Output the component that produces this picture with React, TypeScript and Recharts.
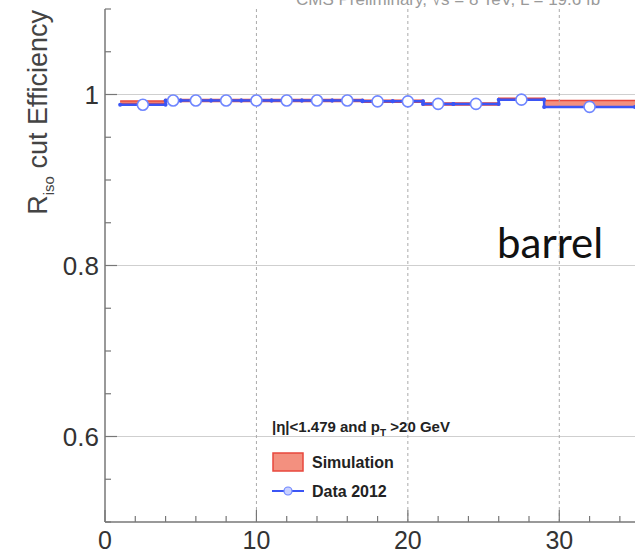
import React from 'react';
import {
  ComposedChart,
  XAxis,
  YAxis,
  Area,
  Line,
  Scatter,
  ReferenceLine,
} from 'recharts';

// pT bins (GeV)
const binLow = [1, 4, 5, 7, 9, 11, 13, 15, 17, 19, 21, 23, 26, 29];
const binHigh = [4, 5, 7, 9, 11, 13, 15, 17, 19, 21, 23, 26, 29, 35];
const binCenter = [2.5, 4.5, 6, 8, 10, 12, 14, 16, 18, 20, 22, 24.5, 27.5, 32];

// R_iso cut efficiency
const dataEff = [0.988, 0.993, 0.993, 0.993, 0.993, 0.993, 0.993, 0.993, 0.992, 0.992, 0.989, 0.989, 0.994, 0.9855];
const simEff = [0.991, 0.993, 0.993, 0.993, 0.993, 0.993, 0.993, 0.993, 0.992, 0.992, 0.989, 0.989, 0.9945, 0.989];
const simErr = [0.0015, 0.0012, 0.0012, 0.0012, 0.0012, 0.0012, 0.0012, 0.0012, 0.0012, 0.0012, 0.0012, 0.0012, 0.0012, 0.004];

const xTicks = [0, 2, 4, 6, 8, 10, 12, 14, 16, 18, 20, 22, 24, 26, 28, 30, 32, 34];
const xLabels = [0, 10, 20, 30];
const yTicks = [0.5, 0.55, 0.6, 0.65, 0.7, 0.75, 0.8, 0.85, 0.9, 0.95, 1, 1.05, 1.1];
const yLabels = [0.6, 0.8, 1];

const FONT = '"Liberation Sans", Arial, Helvetica, sans-serif';
const FRAME = '#777';
const RED = '#e8473c';
const BLUE = '#3b55f5';

const simSteps = binLow.flatMap((lo, i) => {
  const band = [simEff[i] - simErr[i], simEff[i] + simErr[i]];
  return [
    { x: lo, band },
    { x: binHigh[i], band },
  ];
});

const dataSteps = binLow.flatMap((lo, i) => [
  { x: lo, eff: dataEff[i] },
  { x: binHigh[i], eff: dataEff[i] },
]);

const dataPoints = binCenter.map((x, i) => ({ x, eff: dataEff[i] }));

const isLabel = (list: number[], v: number) => list.some((l) => Math.abs(l - v) < 1e-6);

function BottomTick({ x, y, payload }: any) {
  const major = isLabel(xLabels, payload.value);
  return (
    <g>
      <line x1={x} x2={x} y1={y} y2={y - (major ? 12 : 6)} stroke={FRAME} strokeWidth={1.2} />
      {major && (
        <text x={x} y={y + 27} textAnchor="middle" fontSize={25} fill="#333" fontFamily={FONT}>
          {payload.value}
        </text>
      )}
    </g>
  );
}

function TopTick({ x, y, payload }: any) {
  const major = isLabel(xLabels, payload.value);
  return <line x1={x} x2={x} y1={y} y2={y + (major ? 12 : 6)} stroke={FRAME} strokeWidth={1.2} />;
}

function LeftTick({ x, y, payload }: any) {
  const major = isLabel(yLabels, payload.value);
  return (
    <g>
      <line x1={x} x2={x + (major ? 12 : 6)} y1={y} y2={y} stroke={FRAME} strokeWidth={1.2} />
      {major && (
        <text x={x - 6} y={y + 9} textAnchor="end" fontSize={26} fill="#333" fontFamily={FONT}>
          {payload.value}
        </text>
      )}
    </g>
  );
}

function RightTick({ x, y, payload }: any) {
  const major = isLabel(yLabels, payload.value);
  return <line x1={x} x2={x - (major ? 12 : 6)} y1={y} y2={y} stroke={FRAME} strokeWidth={1.2} />;
}

function OpenCircle({ cx, cy }: any) {
  return <circle cx={cx} cy={cy} r={5.5} fill="#fff" stroke="#6f86ff" strokeWidth={1.6} />;
}

function EdgeDot({ cx, cy }: any) {
  return <circle cx={cx} cy={cy} r={2} fill={BLUE} />;
}

function LegendBox({ x, y }: { x: number; y: number }) {
  return (
    <g transform={`translate(${x}, ${y})`}>
      <text x={0} y={16} fontSize={15} fontWeight="bold" fill="#222" fontFamily={FONT}>
        |η|&lt;1.479 and p
        <tspan fontSize={10} dy={5}>T</tspan>
        <tspan dy={-5}> &gt;20 GeV</tspan>
      </text>
      <rect x={1} y={37} width={30} height={18} fill="#f3907f" stroke={RED} strokeWidth={1.5} />
      <text x={40} y={52} fontSize={16} fontWeight="bold" fill="#222" fontFamily={FONT}>
        Simulation
      </text>
      <line x1={0} x2={32} y1={75} y2={75} stroke={BLUE} strokeWidth={2} />
      <circle cx={16} cy={75} r={4} fill="#c8d0ff" stroke="#6f86ff" strokeWidth={1.2} />
      <text x={40} y={81} fontSize={16} fontWeight="bold" fill="#222" fontFamily={FONT}>
        Data 2012
      </text>
    </g>
  );
}

export default function App() {
  return (
    <div style={{ position: 'absolute', left: 0, top: 0, background: '#fff' }}>
      <ComposedChart
        width={644}
        height={556}
        margin={{ top: 9, right: 9, bottom: 0, left: 0 }}
      >
        <XAxis
          xAxisId={0}
          dataKey="x"
          type="number"
          domain={[0, 35]}
          ticks={xTicks}
          interval={0}
          height={34}
          tickSize={0}
          tickMargin={0}
          tick={<BottomTick />}
          axisLine={{ stroke: FRAME, strokeWidth: 1.5 }}
          allowDataOverflow
        />
        <XAxis
          xAxisId="top"
          orientation="top"
          type="number"
          domain={[0, 35]}
          ticks={xTicks}
          interval={0}
          height={0}
          tickSize={0}
          tickMargin={0}
          tick={<TopTick />}
          axisLine={{ stroke: FRAME, strokeWidth: 1.5 }}
          allowDataOverflow
        />
        <YAxis
          yAxisId={0}
          type="number"
          domain={[0.5, 1.1]}
          ticks={yTicks}
          interval={0}
          width={105}
          tickSize={0}
          tickMargin={0}
          tick={<LeftTick />}
          axisLine={{ stroke: FRAME, strokeWidth: 1.5 }}
          allowDataOverflow
        />
        <YAxis
          yAxisId="right"
          orientation="right"
          type="number"
          domain={[0.5, 1.1]}
          ticks={yTicks}
          interval={0}
          width={0}
          tickSize={0}
          tickMargin={0}
          tick={<RightTick />}
          axisLine={{ stroke: FRAME, strokeWidth: 1.5 }}
          allowDataOverflow
        />

        {yLabels.map((v) => (
          <ReferenceLine key={`h${v}`} y={v} stroke="#cfcfcf" strokeWidth={1} />
        ))}
        {xLabels.slice(1).map((v) => (
          <ReferenceLine key={`v${v}`} x={v} stroke="#aaa" strokeDasharray="3 3" strokeWidth={1} />
        ))}

        <Area
          data={simSteps}
          dataKey="band"
          type="linear"
          stroke={RED}
          strokeWidth={1.5}
          fill="#f3907f"
          fillOpacity={1}
          isAnimationActive={false}
          dot={false}
          activeDot={false}
        />
        <Line
          data={dataSteps}
          dataKey="eff"
          type="linear"
          stroke={BLUE}
          strokeWidth={2.5}
          dot={<EdgeDot />}
          activeDot={false}
          isAnimationActive={false}
        />
        <Scatter
          data={dataPoints}
          dataKey="eff"
          shape={<OpenCircle />}
          isAnimationActive={false}
        />

        <LegendBox x={272} y={416} />

        <text
          x={0}
          y={0}
          transform="translate(47, 10) rotate(-90)"
          textAnchor="end"
          fontSize={27}
          fill="#444"
          fontFamily={FONT}
        >
          R<tspan fontSize={15} dy={7}>iso</tspan>
          <tspan dy={-7}> cut Efficiency</tspan>
        </text>
        <text x={296} y={5} fontSize={17} fill="#9a9a9a" fontFamily={FONT}>
          CMS Preliminary, √s = 8 TeV, L = 19.6 fb⁻¹
        </text>
        <text x={497} y={258} fontSize={42} fill="#111" fontFamily="Lato, 'Open Sans', sans-serif">
          barrel
        </text>
      </ComposedChart>
    </div>
  );
}
